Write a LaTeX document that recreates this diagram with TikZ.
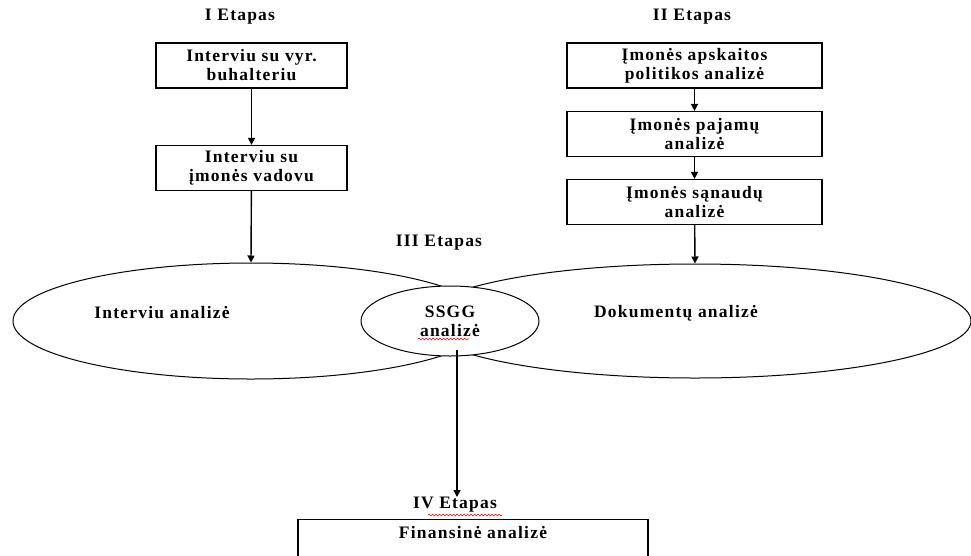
\documentclass[tikz,border=0pt]{standalone}
\usepackage{fontspec}
\setmainfont{Liberation Serif}[LetterSpace=7]
\usetikzlibrary{arrows.meta,shapes.geometric,decorations.pathmorphing}

\begin{document}
\begin{tikzpicture}[x=1pt,y=-1pt,
  txt/.style={font=\fontsize{17.5}{19}\selectfont\bfseries,align=center,inner sep=0pt},
  stepbox/.style={draw,line width=1.2pt,txt,minimum width=#1,minimum height=45pt},
  oval/.style={draw,ellipse,line width=1pt,inner sep=0pt},
  arr/.style={line width=1.4pt,-{Triangle[length=7pt,width=7pt]}},
  spell/.style={red,line width=0.6pt,decorate,
    decoration={snake,amplitude=0.9pt,segment length=3.5pt}}]

\clip (0,0) rectangle (971,555);
\fill[white] (0,0) rectangle (971,555);

% stage titles
\node[txt] (t1) at (240,17) {I Etapas};
\node[txt] (t2) at (692,17) {II Etapas};
\node[txt] (t3) at (439,243) {III Etapas};
\node[txt] (t4) at (455,505) {IV Etapas};

% stage I: interviews
\node[stepbox=191pt] (b1) at (251.5,65.5) {Interviu su vyr.\\buhalteriu};
\node[stepbox=191pt] (b2) at (251.5,168) {Interviu su\\įmonės vadovu};

% stage II: document review
\node[stepbox=255pt] (ba) at (694.5,65.5) {Įmonės apskaitos\\politikos analizė};
\node[stepbox=255pt] (bb) at (694.5,134) {Įmonės pajamų\\analizė};
\node[stepbox=255pt] (bc) at (694.5,202) {Įmonės sąnaudų\\analizė};

% stage III: overlapping analyses
\node[oval,minimum width=476pt,minimum height=116pt] (e1) at (251,321) {};
\node[oval,minimum width=552pt,minimum height=114pt] (e2) at (695,321) {};
\node[txt] (e1t) at (162,313) {Interviu analizė};
\node[txt] (e2t) at (676,313) {Dokumentų analizė};
\node[oval,fill=white,minimum width=178pt,minimum height=70pt,txt] (ss) at (450,321) {SSGG\\analizė};

% stage IV: financial analysis
\node[draw,line width=1.2pt,minimum width=350pt,minimum height=44pt,anchor=north] (fin) at (473,519) {};
\node[txt] (fint) at (473,533) {Finansinė analizė};

% connectors
\draw[arr] (b1) -- (b2);
\draw[arr] (b2) -- (e1.north);
\draw[arr] (ba) -- (bb);
\draw[arr] (bb) -- (bc);
\draw[arr] (bc) -- (e2.north);
\coordinate (s0) at (457,350);
\coordinate (s1) at (457,497);
\draw[arr] (s0) -- (s1);

% spell-check underlines
\draw[spell] (418,339) -- (469,339);
\draw[spell] (428,515) -- (502,515);
\end{tikzpicture}
\end{document}
